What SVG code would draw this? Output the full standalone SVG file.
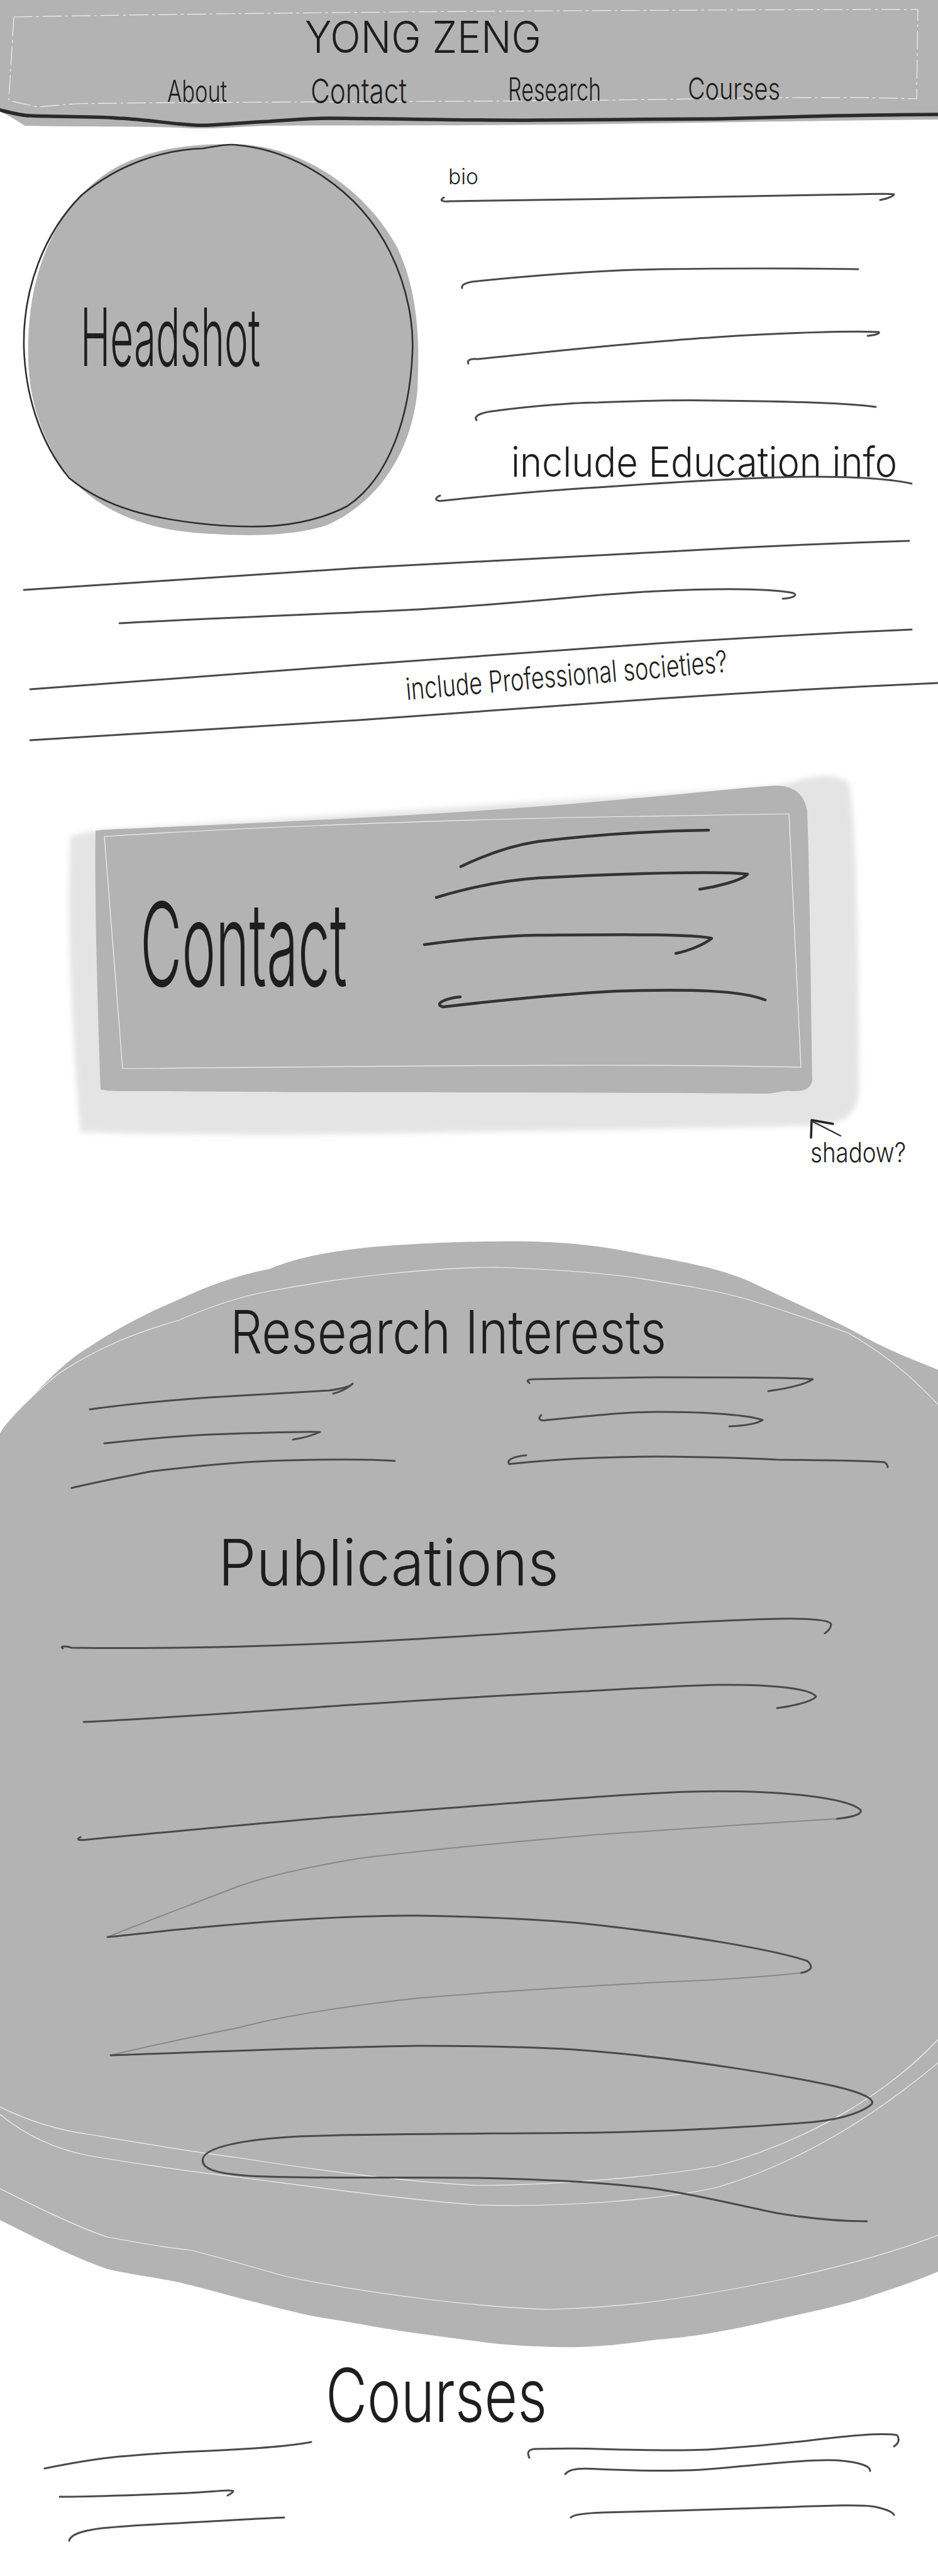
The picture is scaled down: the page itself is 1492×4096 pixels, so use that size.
<svg xmlns="http://www.w3.org/2000/svg" width="1492" height="4096" viewBox="0 0 1492 4096">
<style>
.hand{font-family:Inter,"Open Sans","Liberation Sans",sans-serif;font-weight:300;fill:#1e1e1e}
.ln{fill:none;stroke:#4a4a4a;stroke-width:3;stroke-linecap:round;stroke-linejoin:round}
.dk{fill:none;stroke:#333;stroke-width:4.5;stroke-linecap:round;stroke-linejoin:round}
.faint{fill:none;stroke:#6a6a6a;stroke-width:2;stroke-linecap:round;opacity:.6}
.glint{fill:none;stroke:#fff;stroke-width:1.2;opacity:.8}
.gray{fill:#b3b3b3}
</style>
<defs>
<filter id="soft" x="-10%" y="-10%" width="120%" height="120%"><feGaussianBlur stdDeviation="4"/></filter>
</defs>
<rect width="1492" height="4096" fill="#fff"/>

<g id="header">
<path class="gray" d="M0,0 H1492 V190 C1300,192 1100,195 900,198 C700,200 520,199 420,200 C360,203 320,206 285,203 C240,201 150,202 40,200 L12,183 L0,177 Z"/>
<path class="glint" opacity=".5" stroke-dasharray="30 6 4 6" d="M22,27 C400,20 900,16 1460,15 L1458,157 C1300,152 1100,158 900,160 C600,162 300,162 120,165 L60,170 L14,160 Z"/>
<path fill="none" stroke="#2a2a2a" stroke-width="5.5" stroke-linecap="round" d="M0,175 C20,180 35,184 48,184 C100,186 160,185 190,188 C230,190 260,195 285,197 C305,199 320,200 333,199 C370,197 400,194 428,193 C470,190 500,188 523,188 C650,189 780,192 856,191 C950,190 1050,190 1141,189 C1230,187 1290,185 1331,184 C1400,183 1450,182 1492,182"/>
<text class="hand" x="485" y="84" font-size="70" textLength="376" lengthAdjust="spacingAndGlyphs">YONG ZENG</text>
<text class="hand" x="266" y="162" font-size="48" textLength="95" lengthAdjust="spacingAndGlyphs">About</text>
<text class="hand" x="494" y="164" font-size="54" textLength="153" lengthAdjust="spacingAndGlyphs">Contact</text>
<text class="hand" x="808" y="160" font-size="50" textLength="148" lengthAdjust="spacingAndGlyphs">Research</text>
<text class="hand" x="1094" y="158" font-size="48" textLength="147" lengthAdjust="spacingAndGlyphs">Courses</text>
</g>

<g id="headshot">
<path class="gray" d="M375,229 C480,232 580,300 630,390 C665,460 668,540 664,620 C655,720 600,800 520,835 C460,855 380,852 320,848 C230,842 140,810 90,730 C50,660 43,600 45,540 C48,440 80,350 150,290 C210,240 290,228 375,229 Z"/>
<path fill="none" stroke="#2e2e2e" stroke-width="2.6" d="M323,236 C345,232 365,228 380,231 C470,240 570,300 620,400 C650,460 658,520 656,560 C652,660 620,760 552,805 C480,842 400,840 333,834 C250,826 170,810 110,760 C60,700 40,620 38,552 C36,460 70,370 130,310 C190,260 260,238 323,236 Z"/>
<text class="hand" x="128" y="582" font-size="128" textLength="286" lengthAdjust="spacingAndGlyphs">Headshot</text>
</g>

<g id="bio">
<text class="hand" x="713" y="293" font-size="34" textLength="48" lengthAdjust="spacingAndGlyphs">bio</text>
<path class="ln" d="M706,314 C698,319 704,321 715,320 C900,318 1150,313 1300,310 C1380,309 1415,307 1422,309 C1420,313 1410,316 1400,318"/>
<path class="ln" d="M735,458 C733,452 745,448 760,447 C850,438 950,430 1050,428 C1200,426 1300,427 1365,428"/>
<path class="ln" d="M745,578 C742,572 750,570 760,571 C850,562 1000,545 1141,536 C1250,529 1350,526 1398,528 C1400,531 1390,533 1380,534"/>
<path class="ln" d="M758,668 C752,660 770,655 790,653 C850,645 920,640 951,640 C1050,636 1100,636 1141,637 C1250,638 1340,640 1393,647"/>
<text class="hand" x="813" y="758" font-size="66" textLength="614" lengthAdjust="spacingAndGlyphs">include Education info</text>
<path class="ln" stroke="#2e2e2e" d="M700,788 C690,792 692,798 706,796 C800,786 900,778 951,775 C1050,768 1150,762 1236,759 C1330,756 1410,760 1450,769"/>
</g>

<g id="about-text">
<path class="ln" stroke="#666" d="M38,938 C200,928 450,910 571,903 C800,890 950,884 1046,878 C1250,866 1380,862 1446,860"/>
<path class="ln" stroke="#666" d="M190,991 C350,982 550,975 666,969 C850,958 950,944 1046,940 C1150,935 1230,936 1262,943 C1270,947 1260,951 1245,952"/>
<path class="ln" stroke="#666" d="M48,1096 C250,1082 450,1066 571,1057 C800,1040 950,1030 1046,1023 C1250,1010 1380,1004 1450,1001"/>
<text class="hand" x="647" y="1113" font-size="48" textLength="513" lengthAdjust="spacingAndGlyphs" transform="rotate(-5 647 1113)">include Professional societies?</text>
<path class="ln" stroke="#666" d="M48,1177 C250,1165 450,1152 571,1145 C800,1130 950,1118 1046,1111 C1250,1097 1400,1090 1492,1086"/>
</g>

<g id="contact-card">
<path fill="#e4e4e4" filter="url(#soft)" d="M112,1330 C140,1322 160,1320 200,1318 L1240,1250 C1290,1232 1330,1228 1350,1245 C1362,1300 1366,1500 1366,1740 C1360,1775 1340,1788 1300,1790 C1100,1794 800,1800 500,1804 C300,1805 200,1802 128,1800 C118,1700 108,1500 110,1400 Z"/>
<path class="gray" d="M152,1321 C170,1318 200,1318 240,1316 C500,1305 800,1290 1000,1270 C1100,1262 1180,1252 1236,1249 C1265,1250 1280,1265 1284,1290 C1288,1400 1290,1600 1292,1718 C1290,1730 1280,1736 1260,1735 C1250,1733 1240,1737 1220,1739 C900,1736 500,1738 250,1735 C200,1735 170,1736 160,1732 C155,1600 150,1400 152,1321 Z"/>
<path class="glint" d="M166,1330 C400,1315 700,1305 900,1300 C1100,1296 1200,1296 1255,1294 L1274,1697 C1000,1690 600,1696 195,1699 Z"/>
<text class="hand" x="223" y="1568" font-size="185" textLength="329" lengthAdjust="spacingAndGlyphs">Contact</text>
<path class="dk" stroke-width="5" d="M733,1378 C770,1360 810,1345 856,1338 C950,1327 1050,1321 1127,1320"/>
<path class="dk" d="M694,1427 C750,1410 800,1400 856,1396 C1000,1388 1150,1385 1189,1390 C1180,1400 1140,1410 1113,1414"/>
<path class="dk" d="M675,1502 C750,1492 800,1488 856,1487 C1000,1486 1100,1485 1132,1492 C1120,1502 1095,1512 1075,1516"/>
<path class="dk" d="M732,1585 C705,1588 690,1597 705,1601 C800,1590 900,1580 980,1576 C1100,1572 1180,1575 1217,1590"/>
</g>

<g id="shadow-note">
<text class="hand" x="1289" y="1848" font-size="44" textLength="152" lengthAdjust="spacingAndGlyphs">shadow?</text>
</g>

<g id="research-publications">
<path class="gray" d="M789,1974 C880,1972 950,1980 999,1990 C1080,2005 1140,2015 1189,2036 C1260,2070 1330,2100 1379,2128 C1420,2150 1460,2165 1492,2178 L1492,3612 C1450,3630 1410,3642 1379,3653 C1330,3668 1280,3678 1236,3688 C1150,3708 1100,3716 1046,3720 C990,3728 940,3733 894,3732 C850,3731 800,3729 761,3723 C700,3715 620,3705 571,3695 C530,3688 500,3684 476,3678 C400,3660 330,3640 285,3629 C240,3620 200,3615 171,3608 C120,3590 70,3565 38,3549 L0,3530 L0,2279 C15,2255 30,2240 48,2224 C80,2190 110,2160 143,2141 C190,2110 240,2085 285,2066 C340,2040 390,2025 428,2018 C470,2000 520,1990 600,1982 C680,1976 740,1974 789,1974 Z"/>
<path class="glint" d="M0,2275 C30,2240 60,2210 95,2183 C160,2140 220,2118 285,2099 C340,2075 390,2060 428,2053 C550,2030 680,2016 789,2015 C880,2018 950,2024 999,2030 C1080,2042 1140,2052 1189,2066 C1260,2088 1310,2105 1350,2120 C1420,2160 1460,2200 1492,2233"/>
<path class="glint" d="M0,3350 C50,3375 100,3388 143,3394 C250,3412 320,3424 380,3431 C500,3450 650,3470 761,3475 C900,3474 1050,3460 1141,3444 C1300,3400 1420,3320 1492,3243"/>
<path class="glint" d="M0,3362 C40,3395 90,3418 143,3428 C250,3446 320,3455 380,3462 C520,3480 650,3498 761,3506 C900,3510 1050,3498 1141,3478 C1300,3430 1420,3340 1492,3280"/>
<path class="glint" d="M0,3480 C60,3510 120,3540 171,3557 C230,3568 270,3575 304,3578 C370,3595 420,3610 456,3620 C600,3650 780,3670 874,3672 C950,3670 1000,3665 1046,3659 C1250,3630 1400,3590 1492,3554"/>
<text class="hand" x="366" y="2152" font-size="95" textLength="694" lengthAdjust="spacingAndGlyphs">Research Interests</text>
<path class="ln" d="M143,2241 C220,2230 280,2226 333,2222 C420,2217 480,2213 523,2211 C545,2208 558,2204 561,2200 C556,2205 545,2212 530,2216"/>
<path class="ln" d="M166,2295 C230,2288 290,2283 333,2281 C420,2278 480,2276 509,2277 C500,2281 485,2286 466,2289"/>
<path class="ln" d="M114,2366 C160,2355 200,2348 238,2340 C320,2330 380,2325 428,2323 C520,2320 590,2320 628,2323"/>
<path class="ln" d="M842,2199 C836,2195 840,2193 850,2193 C950,2191 1000,2190 1046,2190 C1180,2190 1260,2190 1293,2193 C1280,2202 1250,2208 1222,2212"/>
<path class="ln" stroke-width="4" d="M861,2250 C855,2256 858,2260 870,2258 C950,2250 1000,2245 1046,2245 C1130,2245 1190,2250 1213,2258 C1205,2263 1185,2267 1160,2268"/>
<path class="ln" stroke="#3a3a3a" d="M837,2314 C815,2316 805,2322 810,2328 C830,2326 880,2320 950,2318 C1000,2316 1020,2316 1046,2316 C1150,2317 1200,2319 1236,2321 C1320,2322 1380,2322 1407,2325 C1411,2328 1412,2331 1412,2333"/>
<text class="hand" x="347" y="2521" font-size="102" textLength="542" lengthAdjust="spacingAndGlyphs">Publications</text>
<path class="ln" d="M100,2621 C94,2617 104,2617 114,2620 C250,2622 420,2618 571,2611 C750,2602 880,2592 951,2588 C1050,2582 1150,2576 1236,2574 C1290,2573 1318,2576 1322,2582 C1322,2588 1318,2593 1312,2597"/>
<path class="ln" stroke="#5a5a5a" d="M133,2738 C300,2730 450,2718 571,2710 C750,2698 880,2692 951,2688 C1040,2683 1100,2680 1141,2679 C1230,2678 1290,2685 1298,2698 C1290,2706 1260,2713 1236,2716"/>
<path class="ln" d="M128,2921 C120,2925 125,2927 140,2925 C300,2910 450,2895 571,2886 C800,2868 1000,2852 1094,2849 C1250,2845 1350,2860 1369,2878 C1372,2886 1350,2890 1331,2892"/>
<path class="faint" d="M1331,2892 C1200,2900 1050,2910 951,2917 C800,2930 650,2945 571,2955 C480,2970 420,2985 380,2999 C300,3030 220,3060 171,3080"/>
<path class="ln" stroke="#333" d="M171,3080 C200,3078 240,3072 285,3068 C420,3055 560,3045 666,3046 C800,3048 900,3055 951,3061 C1100,3078 1230,3100 1284,3118 C1295,3128 1290,3134 1274,3137"/>
<path class="faint" d="M1274,3137 C1200,3145 1100,3150 1046,3152 C900,3160 750,3170 666,3177 C550,3190 450,3205 380,3224 C300,3240 230,3255 176,3268"/>
<path class="ln" stroke="#333" d="M176,3268 C350,3262 550,3254 666,3253 C800,3253 900,3257 951,3262 C1100,3275 1250,3300 1331,3318 C1380,3330 1395,3340 1384,3348 C1360,3365 1320,3372 1284,3375 C1150,3385 1050,3389 951,3391 C800,3393 600,3392 476,3397 C380,3402 330,3415 323,3431 C318,3448 340,3456 400,3460 C500,3465 650,3461 761,3463 C900,3466 980,3472 1046,3481 C1120,3492 1180,3508 1236,3519 C1290,3528 1340,3532 1379,3532"/>
</g>

<g id="courses">
<text class="hand" x="518" y="3851" font-size="118" textLength="352" lengthAdjust="spacingAndGlyphs">Courses</text>
<path class="ln" stroke-width="4" d="M71,3925 C120,3915 150,3910 190,3906 C260,3900 300,3898 333,3897 C420,3893 470,3888 495,3883"/>
<path class="ln" d="M95,3970 C150,3970 250,3966 300,3964 C340,3962 368,3958 371,3961 C370,3964 366,3966 362,3968"/>
<path class="ln" stroke-width="4" d="M110,4040 C112,4030 130,4024 162,4020 C200,4016 240,4014 285,4012 C360,4008 420,4004 452,4003"/>
<path class="ln" stroke-width="4" d="M842,3908 C838,3900 840,3895 850,3894 C900,3893 930,3893 951,3894 C1050,3897 1100,3897 1141,3894 C1200,3890 1240,3886 1284,3881 C1350,3873 1400,3868 1427,3872 C1432,3880 1428,3886 1422,3890"/>
<path class="ln" stroke-width="4" d="M899,3934 C905,3926 920,3924 951,3926 C1040,3930 1100,3929 1141,3925 C1220,3918 1290,3910 1331,3912 C1370,3915 1385,3922 1384,3929"/>
<path class="ln" stroke-width="4" d="M908,4003 C912,3998 930,3996 960,3995 C1050,3993 1150,3990 1236,3987 C1320,3984 1370,3982 1392,3986 C1410,3990 1420,3994 1422,3999"/>
</g>

<g id="connectors">
<path fill="none" stroke="#222" stroke-width="3.5" stroke-linecap="round" stroke-linejoin="round" d="M1290,1809 L1291,1781 L1325,1787"/>
<path fill="none" stroke="#333" stroke-width="2.5" stroke-linecap="round" d="M1292,1783 L1337,1806"/>
</g>
</svg>
